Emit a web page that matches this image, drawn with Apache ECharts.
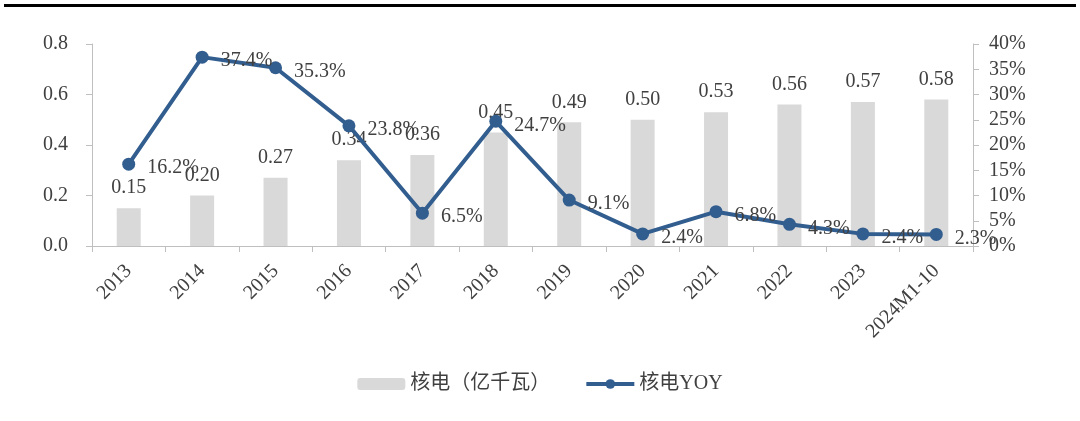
<!doctype html>
<html lang="zh">
<head>
<meta charset="UTF-8">
<title>核电</title>
<script src="https://cdn.jsdelivr.net/npm/echarts@6/dist/echarts.min.js"></script>
<style>
  html, body { margin: 0; padding: 0; background: #fff; }
  #chart { width: 1080px; height: 421px; }
</style>
</head>
<body>
<div id="chart"></div>
<script>
  const categories = ['2013', '2014', '2015', '2016', '2017', '2018', '2019', '2020', '2021', '2022', '2023', '2024M1-10'];
  const capacity = [0.15, 0.20, 0.27, 0.34, 0.36, 0.45, 0.49, 0.50, 0.53, 0.56, 0.57, 0.58];
  const yoy = [16.2, 37.4, 35.3, 23.8, 6.5, 24.7, 9.1, 2.4, 6.8, 4.3, 2.4, 2.3];

  const textColor = '#404040';
  const axisColor = '#bfbfbf';
  const lineColor = '#325d8f';
  const fontFamily = '"Liberation Serif", "Noto Sans CJK SC", serif';

  const chart = echarts.init(document.getElementById('chart'));
  chart.setOption({
    animation: false,
    textStyle: { fontFamily: fontFamily, color: textColor },
    graphic: [{
      type: 'rect',
      shape: { x: 4, y: 4, width: 1072, height: 3 },
      style: { fill: '#000' }
    }],
    grid: { left: 92, right: 107, top: 44, bottom: 175 },
    legend: {
      top: 369,
      left: 'center',
      itemGap: 34,
      itemWidth: 48,
      itemHeight: 12,
      textStyle: { fontSize: 20, color: textColor, fontFamily: fontFamily },
      data: [
        { name: '核电（亿千瓦）', itemStyle: { color: '#d9d9d9' } },
        { name: '核电YOY', lineStyle: { width: 4, color: lineColor } }
      ]
    },
    xAxis: {
      type: 'category',
      data: categories,
      axisLine: { lineStyle: { color: axisColor } },
      axisTick: { show: true, alignWithLabel: false, lineStyle: { color: axisColor }, length: 6 },
      axisLabel: { rotate: 45, fontSize: 20, color: textColor, margin: 22, interval: 0 }
    },
    yAxis: [{
      type: 'value',
      min: 0, max: 0.8, interval: 0.2,
      splitLine: { show: false },
      axisLine: { show: true, lineStyle: { color: axisColor } },
      axisTick: { show: true, lineStyle: { color: axisColor }, length: 6 },
      axisLabel: { fontSize: 20, color: textColor, margin: 24, formatter: v => v.toFixed(1) }
    }, {
      type: 'value',
      min: 0, max: 40, interval: 5,
      splitLine: { show: false },
      axisLine: { show: true, lineStyle: { color: axisColor } },
      axisTick: { show: true, lineStyle: { color: axisColor }, length: 6 },
      axisLabel: { fontSize: 20, color: textColor, margin: 16, formatter: v => v + '%' }
    }],
    series: [{
      name: '核电（亿千瓦）',
      type: 'bar',
      data: capacity,
      barWidth: 24,
      itemStyle: { color: '#d9d9d9' },
      label: {
        show: true, position: 'top', distance: 10,
        fontSize: 20, color: textColor, fontFamily: fontFamily,
        formatter: p => p.value.toFixed(2)
      }
    }, {
      name: '核电YOY',
      type: 'line',
      yAxisIndex: 1,
      data: yoy,
      symbol: 'circle',
      symbolSize: 13,
      lineStyle: { color: lineColor, width: 4 },
      itemStyle: { color: lineColor },
      label: {
        show: true, position: 'right', distance: 12,
        offset: [0, 4],
        fontSize: 20, color: textColor, fontFamily: fontFamily,
        formatter: p => p.value.toFixed(1) + '%'
      },
      z: 3
    }]
  });
</script>
</body>
</html>
